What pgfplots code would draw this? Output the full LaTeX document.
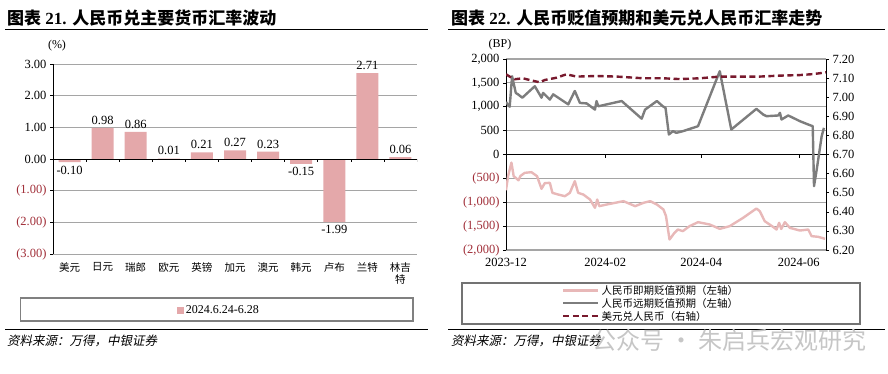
\documentclass[border=0pt]{standalone}
\usepackage{pgfplots}
\pgfplotsset{compat=1.18}
\usepackage{fontspec}
\setmainfont{Liberation Serif}
\newfontfamily\cjk{Noto Sans CJK SC}
\newfontfamily\cjkit[FakeSlant=0.2]{Noto Sans CJK SC}
\definecolor{barpink}{RGB}{228,168,170}
\definecolor{negred}{RGB}{160,45,55}
\definecolor{gridgray}{RGB}{165,165,165}
\definecolor{spotpink}{RGB}{232,184,184}
\definecolor{fwdgray}{RGB}{125,125,125}
\definecolor{usdred}{RGB}{120,25,45}
\begin{document}
\begin{tikzpicture}
\path[use as bounding box] (0,0) rectangle (888pt,-373pt);
% ---------------- left chart ----------------
\begin{axis}[
  at={(53pt,-254pt)}, anchor=south west, scale only axis,
  width=364pt, height=190pt,
  xmin=-0.5, xmax=10.5, ymin=-3, ymax=3,
  ybar, bar width=22pt,
  axis lines=left,
  x axis line style={draw=none},
  y axis line style={black, line width=0.8pt, -},
  xtick={0,1,2,3,4,5,6,7,8,9,10},
  xticklabels={美元,日元,瑞郎,欧元,英镑,加元,澳元,韩元,卢布,兰特,{林吉\\特}},
  xticklabel style={font=\cjk\fontsize{10.5}{12}\selectfont, align=center, anchor=north, yshift=-2pt},
  xtick style={draw=none},
  ytick={-3,-2,-1,0,1,2,3},
  yticklabels={\textcolor{negred}{(3.00)},\textcolor{negred}{(2.00)},\textcolor{negred}{(1.00)},0.00,1.00,2.00,3.00},
  yticklabel style={font=\fontsize{12.5}{13}\selectfont},
  ytick style={black, line width=0.6pt},
  tick align=outside, major tick length=3pt,
  ymajorgrids, grid style={gridgray, line width=1pt},
  legend style={at={(0.456,-0.295)}, anchor=center, draw=none, fill=none,
    font=\fontsize{12}{13}\selectfont, inner sep=1pt},
  legend image code/.code={\fill[barpink] (0pt,-3.5pt) rectangle (7pt,3.5pt);},
]
\addplot[fill=barpink, draw=none,
  nodes near coords={\pgfmathprintnumber[fixed,fixed zerofill,precision=2,assume math mode=true]{\pgfplotspointmeta}},
  every node near coord/.append style={font=\fontsize{12.5}{13}\selectfont, black}]
coordinates {(0,-0.10) (1,0.98) (2,0.86) (3,0.01) (4,0.21) (5,0.27) (6,0.23) (7,-0.15) (8,-1.99) (9,2.71) (10,0.06)};
\addlegendentry{2024.6.24-6.28}
\draw[black, line width=1pt] (axis cs:-0.5,0) -- (axis cs:10.5,0);
\pgfplotsinvokeforeach{0.5,1.5,2.5,3.5,4.5,5.5,6.5,7.5,8.5,9.5,10.5}{
  \draw[black, line width=0.6pt] (axis cs:#1,0) -- ++(0pt,-3pt);
}
\end{axis}
% ---------------- right chart, left axis ----------------
\begin{axis}[
  at={(506pt,-250pt)}, anchor=south west, scale only axis,
  width=320pt, height=191pt,
  xmin=0, xmax=200, ymin=-2000, ymax=2000,
  axis lines=left,
  x axis line style={draw=none},
  y axis line style={black, line width=0.8pt, -},
  xtick={0,62,122,183},
  xticklabels={2023-12,2024-02,2024-04,2024-06},
  xticklabel style={font=\fontsize{12.5}{13}\selectfont, anchor=north, yshift=-2pt},
  xtick style={draw=none},
  ytick={-2000,-1500,-1000,-500,0,500,1000,1500,2000},
  yticklabels={\textcolor{negred}{(2,000)},\textcolor{negred}{(1,500)},\textcolor{negred}{(1,000)},\textcolor{negred}{(500)},0,500,{1,000},{1,500},{2,000}},
  yticklabel style={font=\fontsize{12.5}{13}\selectfont},
  ytick style={black, line width=0.6pt},
  tick align=outside, major tick length=3pt,
  ymajorgrids, grid style={gridgray, line width=1.2pt},
]
\draw[black, line width=1pt] (axis cs:0,0) -- (axis cs:200,0);
\pgfplotsinvokeforeach{62,122,183}{
  \draw[black, line width=0.6pt] (axis cs:#1,0) -- ++(0pt,-3pt);
}
% spot depreciation expectation (pink)
\addplot[spotpink, line width=2.4pt, line join=round] coordinates {
(0,-750) (1.3,-450) (3.4,-170) (4.8,-454) (6.1,-489) (7.8,-540) (9,-450) (11.7,-384) (15.9,-370) (19.4,-454)
(22.2,-719) (24.2,-600) (27.4,-593) (29,-803) (32.6,-838) (36.8,-873) (39.9,-803) (43,-558) (45.1,-803)
(48.3,-838) (52.5,-942) (55.6,-1117) (57,-942) (58.3,-1082) (62.9,-1047) (73.4,-977) (80.7,-1082)
(85.9,-1012) (90.1,-977) (94.3,-1047) (98.4,-1152) (100,-1291) (102.2,-1780) (105.3,-1640) (107.4,-1571)
(110.5,-1605) (114.7,-1501) (120,-1417) (127.3,-1466) (133.6,-1557) (139.8,-1501) (148.2,-1326)
(156.5,-1131) (158.6,-1187) (161.7,-1396) (166.9,-1515) (169.1,-1571) (170.7,-1431) (172,-1560)
(174.3,-1417) (177.4,-1536) (183.7,-1592) (188.9,-1571) (191,-1710) (195.2,-1724) (199.4,-1766)};
% forward depreciation expectation (gray)
\addplot[fwdgray, line width=2.4pt, line join=round] coordinates {
(0,1100) (2.3,1000) (3.8,1640) (6.1,1290) (7.5,1260) (10.2,1190) (18,1430) (22.2,1190) (23.2,1290)
(27.4,1150) (29.5,1260) (38.9,1050) (43,1330) (46.2,1080) (50.4,1070) (55.6,940) (56.6,1120) (57.7,1010)
(72.3,1120) (84.8,750) (86.9,940) (94.3,1120) (98,1010) (99.7,977) (101.8,419) (104.3,489) (106.4,454)
(110.6,489) (120,593) (133.6,1745) (140.8,524) (156.5,956) (160.7,838) (162.8,803) (170.2,817)
(171.2,873) (172.2,733) (176.4,817) (183.7,698) (188.9,628) (191.7,593) (192.5,-663) (194.2,-314)
(197.3,384) (198.7,558)};
\end{axis}
% ---------------- right chart, right axis ----------------
\begin{axis}[
  at={(506pt,-250pt)}, anchor=south west, scale only axis,
  width=320pt, height=191pt,
  xmin=0, xmax=200, ymin=6.2, ymax=7.2,
  axis x line=none,
  axis y line*=right,
  y axis line style={black, line width=0.8pt, -},
  ytick={6.2,6.3,6.4,6.5,6.6,6.7,6.8,6.9,7.0,7.1,7.2},
  yticklabels={6.20,6.30,6.40,6.50,6.60,6.70,6.80,6.90,7.00,7.10,7.20},
  yticklabel style={font=\fontsize{12.5}{13}\selectfont},
  ytick style={black, line width=0.6pt},
  tick align=outside, major tick length=3pt,
  legend style={at={(0.175,-0.172)}, anchor=north west, draw=none, fill=none,
    font=\cjk\fontsize{10.5}{12}\selectfont, row sep=-1.5pt, inner sep=0pt},
  legend cell align=left,
  legend image code/.code={\draw[#1] (0pt,0pt) -- (35pt,0pt);},
]
\addlegendimage{spotpink, line width=2.4pt}
\addlegendentry{人民币即期贬值预期（左轴）}
\addlegendimage{fwdgray, line width=2.4pt}
\addlegendentry{人民币远期贬值预期（左轴）}
\addplot[usdred, line width=2.4pt, dash pattern=on 6pt off 3.5pt] coordinates {
(0,7.12) (2.3,7.108) (5.4,7.094) (10.6,7.099) (14.8,7.09) (21.1,7.078) (24.2,7.09) (31.5,7.102)
(37.8,7.12) (44.1,7.108) (56.6,7.111) (69.2,7.108) (85.9,7.099) (98.4,7.099) (108.5,7.095) (121,7.099)
(133.6,7.108) (146.1,7.108) (158.6,7.108) (171.2,7.113) (183.7,7.116) (192.1,7.121) (200,7.13)};
\addlegendentry{美元兑人民币（右轴）}
\end{axis}
% ---------------- decorations ----------------
\node[anchor=base west, inner sep=0] at (7pt,-24pt)
  {\fontsize{17}{17}\selectfont\bfseries{\cjk 图表} 21. {\cjk 人民币兑主要货币汇率波动}};
\node[anchor=base west, inner sep=0] at (451pt,-24pt)
  {\fontsize{17}{17}\selectfont\bfseries{\cjk 图表} 22. {\cjk 人民币贬值预期和美元兑人民币汇率走势}};
\draw[black, line width=1pt] (5pt,-29.5pt) -- (428pt,-29.5pt);
\draw[black, line width=1pt] (448pt,-29.5pt) -- (885pt,-29.5pt);
\node[font=\fontsize{12}{13}\selectfont] at (57pt,-46pt) {(\%)};
\node[font=\fontsize{12}{13}\selectfont] at (500pt,-45pt) {(BP)};
\draw[gray, line width=1.2pt] (20.5pt,-298pt) rectangle (413pt,-321pt);
\draw[gray!90!black, line width=1.2pt] (462pt,-283pt) rectangle (860pt,-324pt);
\draw[black, line width=1pt] (5pt,-329.5pt) -- (428pt,-329.5pt);
\draw[black, line width=1pt] (448pt,-329.5pt) -- (885pt,-329.5pt);
\node[anchor=west, inner sep=0, font=\cjkit\fontsize{12.5}{13}\selectfont] at (7pt,-341pt) {资料来源：万得，中银证券};
\node[anchor=west, inner sep=0, font=\cjkit\fontsize{12.5}{13}\selectfont] at (451pt,-341pt) {资料来源：万得，中银证券};
\node[anchor=west, inner sep=0, text=gray!45, font=\cjk\fontsize{24}{24}\selectfont] at (592pt,-340pt) {公众号 · 朱启兵宏观研究};
\end{tikzpicture}
\end{document}
